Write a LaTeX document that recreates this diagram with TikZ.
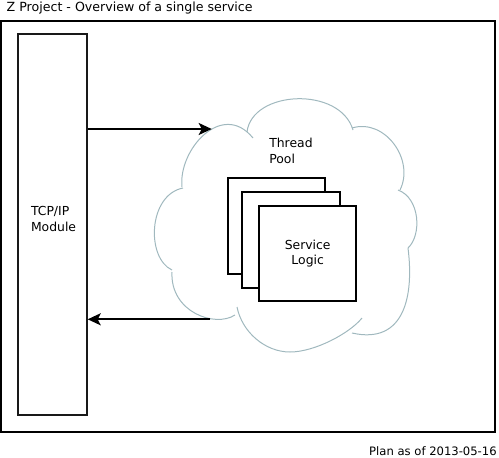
\documentclass[tikz,border=0pt]{standalone}
\usepackage{fontspec}
\setmainfont{DejaVu Sans}
\usetikzlibrary{arrows.meta}
\definecolor{cloudc}{RGB}{160,184,190}
\begin{document}
\begin{tikzpicture}[x=1pt,y=-1pt,
  lbl/.style={inner sep=0pt,outer sep=0pt,font=\fontsize{12.4}{15.6}\selectfont},
  titlelbl/.style={inner sep=0pt,outer sep=0pt,font=\fontsize{12.6}{15.6}\selectfont},
  smalllbl/.style={inner sep=0pt,outer sep=0pt,font=\fontsize{11.6}{14}\selectfont},
  frame/.style={draw=black,line width=2pt},
  tcpbox/.style={draw=black!90,line width=2pt,minimum width=68.7pt,minimum height=381.3pt,inner sep=0pt},
  svcbox/.style={draw=black,line width=2pt,fill=white,minimum width=97.3pt,minimum height=95.7pt,inner sep=0pt,align=center,font=\fontsize{12.4}{15.6}\selectfont},
  cloudline/.style={draw=cloudc,line width=1pt},
  arrowline/.style={draw=black,line width=2pt,-{Stealth[length=13pt,width=12pt,inset=3pt]}}]
\useasboundingbox (0,0) rectangle (499,458);
\node[titlelbl,anchor=base west] (title) at (6.7,11.3) {Z Project - Overview of a single service};
\draw[frame] (1,21) rectangle (495,431.7);
\node[tcpbox] (tcp) at (52.35,224.65) {};
\node[lbl,anchor=base west,align=left] (tcplabel) at (31,231) {TCP/IP\\Module};
% cloud
\draw[cloudline] (182,187) .. controls (178,150) and (222,100) .. (253,138);
\draw[cloudline] (247,132) .. controls (252,90) and (340,86) .. (353,130);
\draw[cloudline] (352,128) .. controls (385,118) and (415,160) .. (400,190);
\draw[cloudline] (398,190) .. controls (420,198) and (422,235) .. (408,248);
\draw[cloudline] (408,248) .. controls (414,295) and (405,345) .. (352,333);
\draw[cloudline] (362,318) .. controls (350,333) and (315,352) .. (290,352)
                 .. controls (265,352) and (242,332) .. (237,307);
\draw[cloudline] (235,315) .. controls (215,328) and (170,312) .. (172,272);
\draw[cloudline] (172,270) .. controls (146,258) and (148,195) .. (183,188);
\node[lbl,anchor=base west,align=left] (pool) at (269.3,163.3) {Thread\\Pool};
\node[svcbox] (svc1) at (276.7,226.2) {};
\node[svcbox] (svc2) at (291,240) {};
\node[svcbox] (svc3) at (307.7,253.5) {Service\\Logic};
\coordinate (poolin) at (211.7,129);
\coordinate (poolout) at (210,319.3);
\draw[arrowline] (tcp.east |- poolin) -- (poolin);
\draw[arrowline] (poolout) -- (tcp.east |- poolout);
\node[smalllbl,anchor=base east] (plan) at (496.7,455) {Plan as of 2013-05-16};
\end{tikzpicture}
\end{document}
